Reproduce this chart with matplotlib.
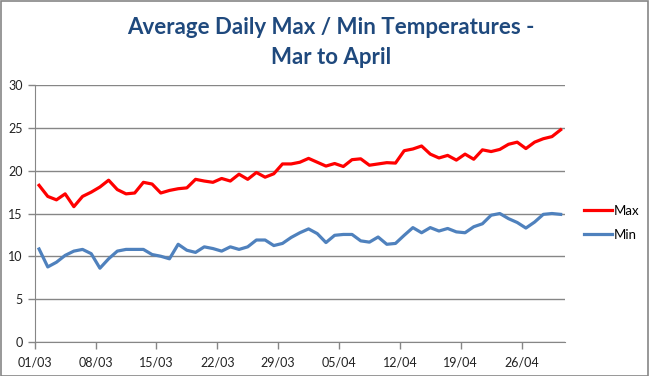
import numpy as np
import pandas as pd
import matplotlib
matplotlib.use("Agg")
import matplotlib.pyplot as plt
import matplotlib.dates as mdates
from matplotlib.patches import Rectangle

# daily averages, 1 March to 30 April
max_temps = [18.3, 17.0, 16.6, 17.3, 15.8, 17.0, 17.5, 18.1, 18.9, 17.8,
             17.3, 17.4, 18.65, 18.45, 17.4, 17.7, 17.9, 18.0, 19.0, 18.8,
             18.65, 19.1, 18.8, 19.6, 19.0, 19.8, 19.25, 19.65, 20.8, 20.8,
             21.0, 21.45, 21.0, 20.55, 20.85, 20.5, 21.3, 21.4, 20.65, 20.8,
             20.95, 20.9, 22.35, 22.55, 22.9, 21.95, 21.5, 21.8, 21.25, 21.95,
             21.35, 22.45, 22.25, 22.5, 23.1, 23.35, 22.6, 23.35, 23.75, 24.0,
             24.8]
min_temps = [10.85, 8.75, 9.3, 10.1, 10.6, 10.8, 10.3, 8.6, 9.7, 10.6,
             10.8, 10.8, 10.8, 10.2, 10.0, 9.7, 11.4, 10.7, 10.45, 11.1,
             10.9, 10.6, 11.1, 10.8, 11.1, 11.9, 11.9, 11.25, 11.5, 12.2,
             12.75, 13.2, 12.65, 11.6, 12.45, 12.55, 12.55, 11.8, 11.65, 12.25,
             11.4, 11.5, 12.45, 13.35, 12.75, 13.35, 12.95, 13.25, 12.85, 12.75,
             13.45, 13.8, 14.8, 15.0, 14.4, 13.95, 13.3, 14.0, 14.9, 15.0,
             14.9]
dates = pd.date_range("2014-03-01", periods=len(max_temps), freq="D")
tick_dates = pd.date_range("2014-03-01", periods=9, freq="7D")
series_names = ["Max", "Min"]

title_font = ["Lato", "DejaVu Sans"]
grey = "#868686"

fig = plt.figure(figsize=(6.49, 3.76), dpi=100)
ax = fig.add_axes([0.0535, 0.0912, 0.8171, 0.6819])

# Excel puts each day in the middle of its slot
x = dates + pd.Timedelta(hours=12)
ax.plot(x, max_temps, color="#FF0000", lw=2.3, label=series_names[0],
        solid_joinstyle="round")
ax.plot(x, min_temps, color="#4F81BD", lw=2.3, label=series_names[1],
        solid_joinstyle="round")

ax.set_xlim(dates[0], dates[-1] + pd.Timedelta(days=1))
ax.set_ylim(0, 30)
ax.set_yticks(np.arange(0, 31, 5))
ax.set_xticks(tick_dates)
ax.xaxis.set_major_formatter(mdates.DateFormatter("%d/%m"))

ax.grid(axis="y", color=grey, lw=1)
ax.set_axisbelow(True)
for s in ["top", "right"]:
    ax.spines[s].set_visible(False)
for s in ["left", "bottom"]:
    ax.spines[s].set_color(grey)
ax.tick_params(colors=grey, length=5, width=1, labelcolor="#222222",
               labelsize=9)
for lab in ax.get_xticklabels() + ax.get_yticklabels():
    lab.set_fontfamily(title_font)
ax.tick_params(axis="x", pad=6)

fig.text(0.51, 0.928, "Average Daily Max / Min Temperatures -", ha="center",
         va="center", fontsize=16, fontweight="bold", color="#1F497D",
         family=title_font)
fig.text(0.51, 0.848, "Mar to April", ha="center", va="center", fontsize=16,
         fontweight="bold", color="#1F497D", family=title_font)

leg = fig.legend(loc="center left", bbox_to_anchor=(0.882, 0.407),
                 frameon=False, handlelength=2.1, handletextpad=0.15,
                 labelspacing=0.9, prop={"family": title_font, "size": 9.5})

# chart border
fig.patches.append(Rectangle((0.001, 0.001), 0.997, 0.996,
                             transform=fig.transFigure, fill=False,
                             edgecolor=grey, lw=1.2))

fig.savefig("out.png", dpi=100)
